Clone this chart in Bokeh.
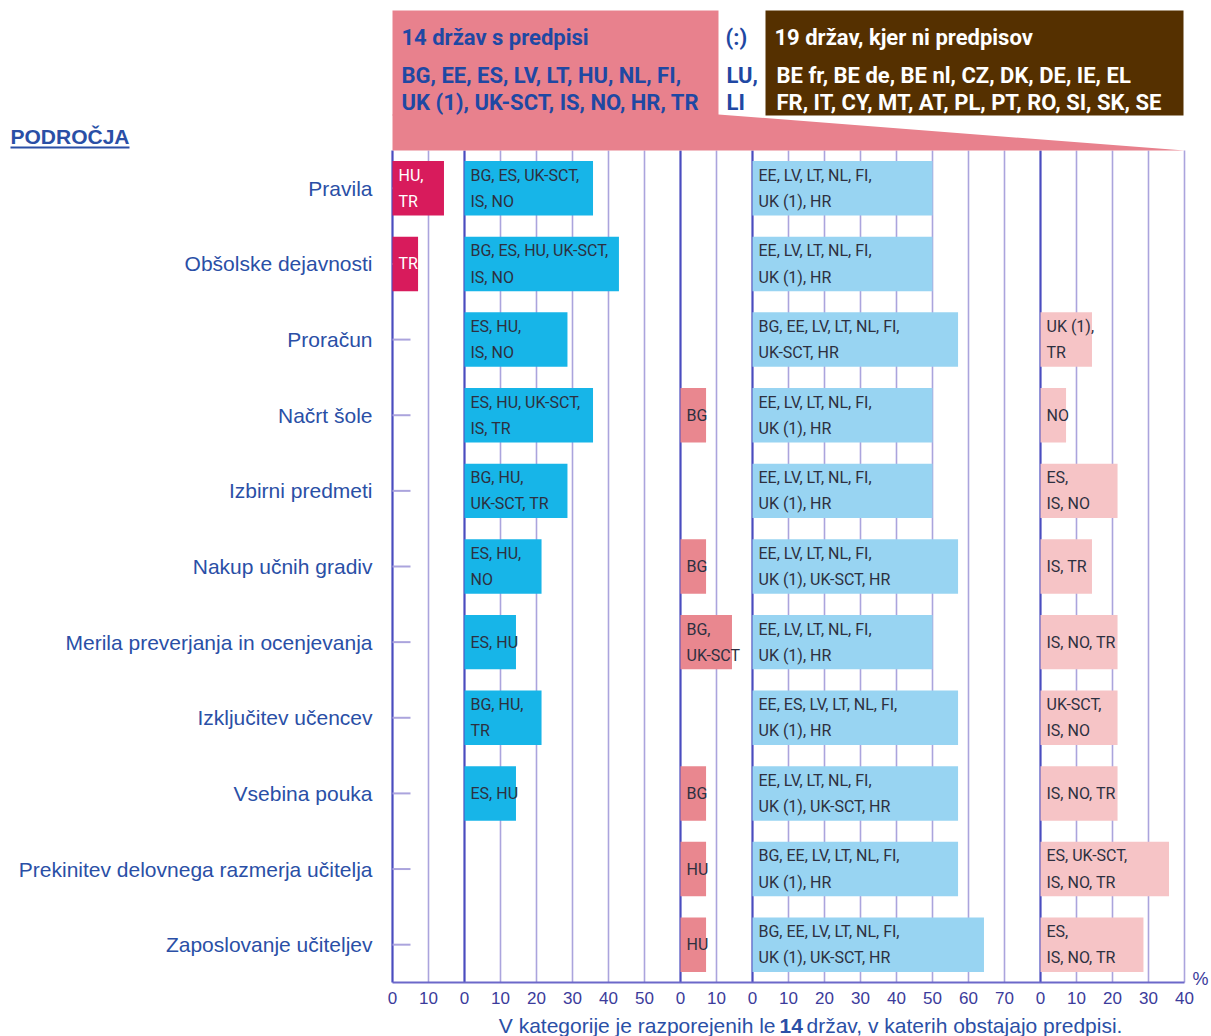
from bokeh.plotting import figure
from bokeh.models import Range1d, FixedTicker, ColumnDataSource
from bokeh.core.properties import value
from bokeh.embed import file_html
from bokeh.resources import INLINE

# ---------------- data ----------------
AREAS = [
    "Pravila",
    "Obšolske dejavnosti",
    "Proračun",
    "Načrt šole",
    "Izbirni predmeti",
    "Nakup učnih gradiv",
    "Merila preverjanja in ocenjevanja",
    "Izključitev učencev",
    "Vsebina pouka",
    "Prekinitev delovnega razmerja učitelja",
    "Zaposlovanje učiteljev",
]

# share (%) of the 14 countries with regulations, per panel
P1_VALUES = [14.3, 7.1, 0, 0, 0, 0, 0, 0, 0, 0, 0]
P1_LABELS = ["HU,\nTR", "TR", "", "", "", "", "", "", "", "", ""]

P2_VALUES = [35.7, 42.9, 28.6, 35.7, 28.6, 21.4, 14.3, 21.4, 14.3, 0, 0]
P2_LABELS = ["BG, ES, UK-SCT,\nIS, NO", "BG, ES, HU, UK-SCT,\nIS, NO", "ES, HU,\nIS, NO",
             "ES, HU, UK-SCT,\nIS, TR", "BG, HU,\nUK-SCT, TR", "ES, HU,\nNO", "ES, HU",
             "BG, HU,\nTR", "ES, HU", "", ""]

P3_VALUES = [0, 0, 0, 7.1, 0, 7.1, 14.3, 0, 7.1, 7.1, 7.1]
P3_LABELS = ["", "", "", "BG", "", "BG", "BG,\nUK-SCT", "", "BG", "HU", "HU"]

P4_VALUES = [50.0, 50.0, 57.1, 50.0, 50.0, 57.1, 50.0, 57.1, 57.1, 57.1, 64.3]
P4_LABELS = ["EE, LV, LT, NL, FI,\nUK (1), HR", "EE, LV, LT, NL, FI,\nUK (1), HR",
             "BG, EE, LV, LT, NL, FI,\nUK-SCT, HR", "EE, LV, LT, NL, FI,\nUK (1), HR",
             "EE, LV, LT, NL, FI,\nUK (1), HR", "EE, LV, LT, NL, FI,\nUK (1), UK-SCT, HR",
             "EE, LV, LT, NL, FI,\nUK (1), HR", "EE, ES, LV, LT, NL, FI,\nUK (1), HR",
             "EE, LV, LT, NL, FI,\nUK (1), UK-SCT, HR", "BG, EE, LV, LT, NL, FI,\nUK (1), HR",
             "BG, EE, LV, LT, NL, FI,\nUK (1), UK-SCT, HR"]

P5_VALUES = [0, 0, 14.3, 7.1, 21.4, 14.3, 21.4, 21.4, 21.4, 35.7, 28.6]
P5_LABELS = ["", "", "UK (1),\nTR", "NO", "ES,\nIS, NO", "IS, TR", "IS, NO, TR",
             "UK-SCT,\nIS, NO", "IS, NO, TR", "ES, UK-SCT,\nIS, NO, TR", "ES,\nIS, NO, TR"]

XTICK_LABELS = ["0", "10", "0", "10", "20", "30", "40", "50", "0", "10", "0", "10",
                "20", "30", "40", "50", "60", "70", "0", "10", "20", "30", "40"]

HDR_REG = ["14 držav s predpisi", "BG, EE, ES, LV, LT, HU, NL, FI,", "UK (1), UK-SCT, IS, NO, HR, TR"]
HDR_MISSING = ["(:)", "LU,", "LI"]
HDR_NOREG = ["19 držav, kjer ni predpisov", "BE fr, BE de, BE nl, CZ, DK, DE, IE, EL",
             "FR, IT, CY, MT, AT, PL, PT, RO, SI, SK, SE"]
AXIS_TITLE = "PODROČJA"
FOOT = ["V kategorije je razporejenih le", "14", "držav, v katerih obstajajo predpisi."]

# ---------------- layout / style ----------------
FIG_W, FIG_H = 1211, 1036
ORIGIN = 0
X0_PX = 392.0
PX_PER_UNIT = 3.6
Y_TOP_PX, Y_BOT_PX = 150.0, 982.0
NROWS = len(AREAS)
ROW_PX = (Y_BOT_PX - Y_TOP_PX) / NROWS

PANEL_OFFSETS = [0, 20, 80, 100, 180]
PANEL_END = 220
BOUNDARIES = [0, 20, 80, 100, 180]
PANEL_COLORS = ["#d81b5c", "#17b5e8", "#e9878f", "#98d4f2", "#f6c4c6"]
PANEL_TEXT = ["white", "#2d3040", "#2d3040", "#2d3040", "#2d3040"]

BLUE = "#2a4fa6"
DARK_LINE = "#4a4cbf"
LIGHT_LINE = "#aba4dd"
HDR_PINK = "#e8818d"
BROWN = "#553000"
COND = value("Roboto")
SANS = value("Liberation Sans")


def sx(px):
    return (px - X0_PX) / PX_PER_UNIT


def sy(px):
    return (px - Y_TOP_PX) / ROW_PX - 0.5


p = figure(width=FIG_W, height=FIG_H,
           x_range=Range1d(sx(ORIGIN), sx(ORIGIN + FIG_W)),
           y_range=Range1d(sy(ORIGIN + FIG_H), sy(ORIGIN)),
           output_backend="svg", toolbar_location=None, min_border=0)
p.outline_line_color = None
p.xgrid.grid_line_color = None
p.ygrid.grid_line_color = None
p.background_fill_color = "white"
p.border_fill_color = "white"

# grid lines
gx = list(range(0, PANEL_END + 1, 10))
gcol = [DARK_LINE if g in BOUNDARIES else LIGHT_LINE for g in gx]
gw = [2.2 if g in BOUNDARIES else 1.6 for g in gx]
p.segment(x0=gx, y0=[-0.5] * len(gx), x1=gx, y1=[NROWS - 0.5] * len(gx),
          line_color=gcol, line_width=gw)
p.segment(x0=[0], y0=[NROWS - 0.5], x1=[PANEL_END], y1=[NROWS - 0.5],
          line_color="#6c68c9", line_width=2)
# small tick dashes on left axis
rows = list(range(NROWS))
p.segment(x0=[0] * NROWS, y0=rows, x1=[18 / PX_PER_UNIT] * NROWS, y1=rows,
          line_color=LIGHT_LINE, line_width=2)

# bars
panels = [(P1_VALUES, P1_LABELS), (P2_VALUES, P2_LABELS), (P3_VALUES, P3_LABELS),
          (P4_VALUES, P4_LABELS), (P5_VALUES, P5_LABELS)]
for k, (vals, labs) in enumerate(panels):
    off = PANEL_OFFSETS[k]
    idx = [i for i, v in enumerate(vals) if v > 0]
    src = ColumnDataSource(dict(
        y=idx,
        left=[off] * len(idx),
        right=[off + vals[i] for i in idx],
        label=[labs[i] for i in idx],
    ))
    p.hbar(y="y", left="left", right="right", height=0.72, source=src,
           fill_color=PANEL_COLORS[k], line_color=None)
    p.text(x="left", y="y", text="label", source=src, x_offset=6,
           text_font=COND, text_font_size="16px", text_color=PANEL_TEXT[k],
           text_baseline="middle", text_align="left", text_line_height=1.38)

# header
p.quad(left=[sx(392)], right=[sx(718)], top=[sy(10)], bottom=[sy(115)],
       fill_color=HDR_PINK, line_color=None)
p.quad(left=[sx(765)], right=[sx(1183)], top=[sy(10)], bottom=[sy(115)],
       fill_color=BROWN, line_color=None)
p.patch(x=[sx(392), sx(718), sx(1184), sx(392)], y=[sy(114), sy(114), sy(150), sy(150)],
        fill_color=HDR_PINK, line_color=None)
hy = [sy(37), sy(75), sy(102)]
p.text(x=[sx(401)] * 3, y=hy, text=HDR_REG, text_font=COND, text_font_style="bold",
       text_font_size="22px", text_color="#1f48a3", text_baseline="middle")
p.text(x=[sx(725), sx(726), sx(726)], y=hy, text=HDR_MISSING, text_font=COND,
       text_font_style="bold", text_font_size="22px", text_color="#1f48a3",
       text_baseline="middle")
p.text(x=[sx(774), sx(776), sx(776)], y=hy, text=HDR_NOREG, text_font=COND,
       text_font_style="bold", text_font_size="22px", text_color="white",
       text_baseline="middle")

# left title
p.text(x=[sx(10)], y=[sy(136)], text=[AXIS_TITLE], text_font=SANS, text_font_style="bold",
       text_font_size="21px", text_color=BLUE, text_baseline="middle")
p.segment(x0=[sx(10)], y0=[sy(147)], x1=[sx(129)], y1=[sy(147)], line_color=BLUE, line_width=2)

# % sign
p.text(x=[sx(1192)], y=[sy(978)], text=["%"], text_font=SANS, text_font_size="18px",
       text_color="#3b3b9b", text_baseline="middle")

# footer
fy = sy(1025)
p.text(x=[sx(775)], y=[fy], text=[FOOT[0]], text_font=SANS, text_font_size="21px",
       text_color=BLUE, text_baseline="middle", text_align="right")
p.text(x=[sx(779)], y=[fy], text=[FOOT[1]], text_font=SANS, text_font_style="bold",
       text_font_size="21px", text_color=BLUE, text_baseline="middle", text_align="left")
p.text(x=[sx(806)], y=[fy], text=[FOOT[2]], text_font=SANS, text_font_size="21px",
       text_color=BLUE, text_baseline="middle", text_align="left")

# axes
xa = p.xaxis[0]
xa.fixed_location = NROWS - 0.5
xa.ticker = FixedTicker(ticks=gx)
xa.major_label_overrides = {t: XTICK_LABELS[i] for i, t in enumerate(gx)}
xa.axis_line_color = None
xa.major_tick_line_color = None
xa.minor_tick_line_color = None
xa.major_label_standoff = 3
xa.major_label_text_font = "Liberation Sans"
xa.major_label_text_font_size = "17px"
xa.major_label_text_color = "#3b3b9b"

ya = p.yaxis[0]
ya.fixed_location = 0
ya.ticker = FixedTicker(ticks=rows)
ya.major_label_overrides = {i: AREAS[i] for i in rows}
ya.axis_line_color = None
ya.major_tick_line_color = None
ya.minor_tick_line_color = None
ya.major_label_standoff = 14
ya.major_label_text_font = "Liberation Sans"
ya.major_label_text_font_size = "21px"
ya.major_label_text_color = BLUE

open("out.html", "w").write(file_html(p, INLINE))
